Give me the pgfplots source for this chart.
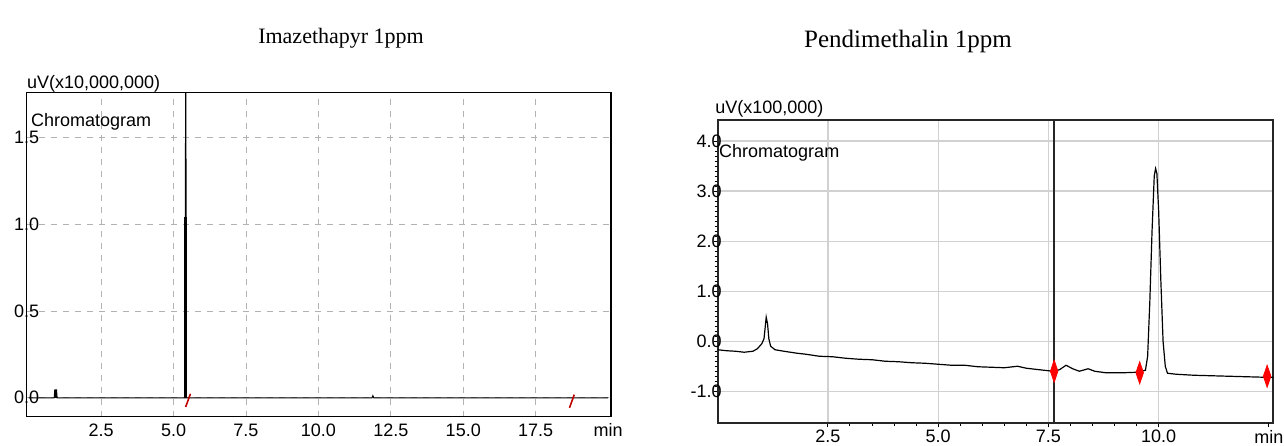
\documentclass[border=0pt]{standalone}
\usepackage{fontspec}
\setmainfont{Liberation Serif}
\newfontfamily\arial{Liberation Sans}
\usepackage{pgfplots}
\pgfplotsset{compat=1.18}
\begin{document}
\begin{tikzpicture}
\path[use as bounding box] (0pt,0pt) rectangle (642pt,222.5pt);
% ---------------- left chart ----------------
\begin{axis}[
  at={(13.35pt,14.15pt)}, anchor=south west,
  width=292.15pt, height=162.2pt, scale only axis,
  xmin=-0.07, xmax=20.1, ymin=-0.109, ymax=1.759,
  xtick={2.5,5,7.5,10,12.5,15,17.5},
  xticklabels={2.5,5.0,7.5,10.0,12.5,15.0,17.5},
  extra x ticks={20}, extra x tick labels={min},
  extra x tick style={grid=none},
  ytick={0,0.5,1,1.5}, yticklabels={0.0,0.5,1.0,1.5},
  grid=major, grid style={black!30, dash pattern=on 3pt off 3pt, line width=0.4pt},
  major tick length=0pt,
  axis line style={line width=0.7pt},
  ticklabel style={font=\arial\fontsize{9}{10}\selectfont},
  yticklabel style={anchor=center, inner sep=0pt},
  title={Imazethapyr 1ppm},
  title style={at={(0.538,1.131)}, anchor=center, yshift=0pt, font=\fontsize{11}{13}\selectfont},
  clip mode=individual,
]
\addplot[black, line width=0.5pt] coordinates {
 (0,0) (0.88,0) (0.90,0.045) (0.96,0.045) (0.98,0) (5.40,0) (5.42,2.5) (5.44,0)
 (11.85,0) (11.88,0.012) (11.91,0) (20.0,0)};
\addplot[black, line width=1.4pt] coordinates {(5.42,0) (5.42,1.04)};
\addplot[black, line width=1.2pt] coordinates {(0.93,0) (0.93,0.045)};
\addplot[only marks, mark=|, color=red!75!black, mark size=3.5pt,
  mark options={rotate=-20, line width=0.8pt}] coordinates {(5.50,-0.015) (18.75,-0.02)};
\node[anchor=base west, inner sep=0pt, font=\arial\fontsize{9}{10}\selectfont]
  at (axis description cs:0,1.013) {uV(x10,000,000)};
\node[anchor=base west, inner sep=0pt, font=\arial\fontsize{9}{10}\selectfont]
  at (axis description cs:0.007,0.896) {Chromatogram};
\end{axis}
% ---------------- right chart ----------------
\begin{axis}[
  at={(358.85pt,10.85pt)}, anchor=south west,
  width=277.8pt, height=151.65pt, scale only axis,
  xmin=0, xmax=12.6, ymin=-1.64, ymax=4.42,
  xtick={2.5,5,7.5,10}, xticklabels={2.5,5.0,7.5,10.0},
  extra x ticks={12.5}, extra x tick labels={min},
  extra x tick style={grid=none},
  minor x tick num=4,
  ytick={-1,0,1,2,3,4}, yticklabels={-1.0,0.0,1.0,2.0,3.0,4.0},
  minor y tick num=9,
  grid=major, grid style={black!18, line width=0.6pt},
  tick align=outside, major tick length=2pt, minor tick length=1.5pt,
  xtick pos=bottom, ytick pos=left,
  tick style={black, line width=0.5pt},
  axis line style={line width=1pt, black!85},
  ticklabel style={font=\arial\fontsize{9}{10}\selectfont},
  xticklabel style={yshift=2pt},
  yticklabel style={anchor=east, inner sep=0pt, xshift=4.2pt},
  title={Pendimethalin 1ppm},
  title style={at={(0.3425,1.218)}, anchor=center, yshift=0pt, font=\fontsize{12.5}{15}\selectfont},
  clip mode=individual,
]
\addplot[black, line width=0.6pt] coordinates {
 (0.00,-0.17) (0.2,-0.19) (0.4,-0.20) (0.6,-0.22) (0.8,-0.20) (0.9,-0.15)
 (1.0,-0.05) (1.05,0.05) (1.1,0.48) (1.13,0.35) (1.16,0.05) (1.2,-0.10)
 (1.3,-0.17) (1.5,-0.20) (1.8,-0.24) (2.0,-0.26) (2.3,-0.30) (2.6,-0.31)
 (2.9,-0.34) (3.2,-0.36) (3.5,-0.37) (3.8,-0.40) (4.1,-0.41) (4.4,-0.43)
 (4.7,-0.44) (5.0,-0.46) (5.3,-0.48) (5.6,-0.48) (5.9,-0.51) (6.2,-0.52)
 (6.5,-0.53) (6.8,-0.50) (7.0,-0.54) (7.3,-0.57) (7.6,-0.60) (7.75,-0.57)
 (7.9,-0.48) (8.05,-0.55) (8.2,-0.60) (8.4,-0.55) (8.55,-0.60) (8.8,-0.63)
 (9.2,-0.63) (9.5,-0.62) (9.7,-0.58) (9.75,-0.3) (9.8,0.8) (9.85,2.2)
 (9.9,3.3) (9.93,3.45) (9.96,3.35) (10.0,2.6) (10.05,1.2) (10.1,0.0)
 (10.15,-0.5) (10.2,-0.64) (10.4,-0.66) (10.8,-0.68) (11.2,-0.69)
 (11.6,-0.70) (12.0,-0.71) (12.4,-0.72) (12.6,-0.72)};
\addplot[black!85, line width=1pt] coordinates {(7.63,-1.64) (7.63,4.42)};
\addplot[only marks, mark=diamond*, color=red, mark size=2.5pt,
  mark options={yscale=2.2}] coordinates {(7.63,-0.6) (9.57,-0.63) (12.46,-0.70)};
\node[anchor=base west, inner sep=0pt, font=\arial\fontsize{9}{10}\selectfont]
  at (axis description cs:-0.005,1.023) {uV(x100,000)};
\node[anchor=base west, inner sep=0pt, font=\arial\fontsize{9}{10}\selectfont]
  at (axis description cs:0.002,0.878) {Chromatogram};
\end{axis}
\end{tikzpicture}
\end{document}
